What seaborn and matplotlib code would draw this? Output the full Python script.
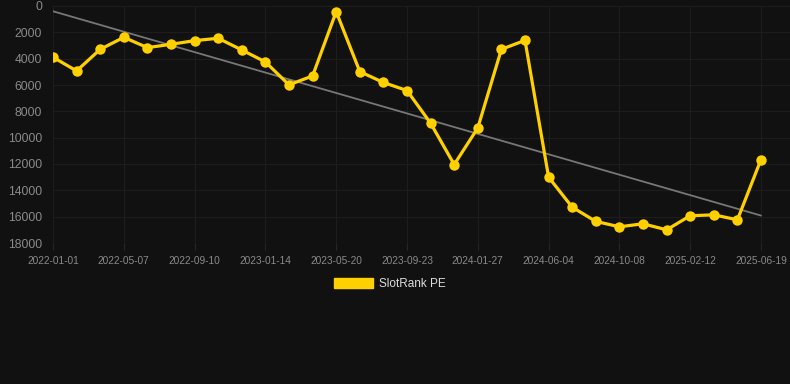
import matplotlib
matplotlib.use("Agg")
import matplotlib.pyplot as plt
import numpy as np
import seaborn as sns
from matplotlib.patches import Patch

dates = [
    "2022-01-01", "2022-02-12", "2022-03-26", "2022-05-07", "2022-06-18", "2022-07-30",
    "2022-09-10", "2022-10-22", "2022-12-03", "2023-01-14", "2023-02-25", "2023-04-08",
    "2023-05-20", "2023-07-01", "2023-08-12", "2023-09-23", "2023-11-04", "2023-12-16",
    "2024-01-27", "2024-03-09", "2024-04-20", "2024-06-04", "2024-07-16", "2024-08-27",
    "2024-10-08", "2024-11-19", "2024-12-31", "2025-02-12", "2025-03-26", "2025-05-07",
    "2025-06-19",
]
rank = [
    3890, 4930, 3290, 2380, 3160, 2910, 2630, 2450, 3340, 4250, 5990, 5310,
    430, 4980, 5810, 6420, 8900, 12040, 9260, 3290, 2610, 13000, 15280, 16360,
    16770, 16540, 17000, 15930, 15860, 16240, 11660,
]
series_name = "SlotRank PE"
y_ticks = [0, 2000, 4000, 6000, 8000, 10000, 12000, 14000, 16000, 18000]

bg = "#111111"
gold = "#FFD000"
grid = "#1d1d1d"

sns.set_theme(style="dark")
plt.rcParams["font.family"] = ["Liberation Sans", "DejaVu Sans"]

fig = plt.figure(figsize=(7.9, 3.84), dpi=100, facecolor=bg)
ax = fig.add_axes([53 / 790, 1 - 243 / 384, 1 - 53 / 790, 237 / 384])
ax.set_facecolor(bg)

idx = np.arange(len(rank))
sns.regplot(x=idx, y=rank, ax=ax, scatter=False, ci=None, truncate=True,
            color="#777777", line_kws={"linewidth": 1.3, "zorder": 2})
sns.lineplot(x=idx, y=rank, ax=ax, color=gold, linewidth=2.3, marker="o",
             markersize=7.5, markeredgewidth=0, zorder=3)

ax.set_xlim(0, 30 + 29 / 23.6)
ax.set_ylim(18000, 0)
ax.set_yticks(y_ticks)
ax.set_yticklabels([str(v) for v in y_ticks])
ax.set_xticks(idx[::3])
ax.set_xticklabels(dates[::3])

ax.grid(True, color=grid, linewidth=0.8)
for s in ax.spines.values():
    s.set_visible(False)
ax.tick_params(axis="y", length=0, pad=8, labelsize=8.7, labelcolor="#8a8a8a")
ax.tick_params(axis="x", length=5, width=0.8, color="#262626", pad=4,
               labelsize=7.3, labelcolor="#8a8a8a", bottom=True)
ax.set_xlabel("")
ax.set_ylabel("")

handle = Patch(facecolor=gold, edgecolor=gold, label=series_name)
fig.legend(handles=[handle], loc="center", bbox_to_anchor=(390 / 790, 1 - 284 / 384),
           frameon=False, fontsize=8.5, labelcolor="#dddddd",
           handlelength=3.3, handleheight=1.0, handletextpad=0.5)

fig.savefig("out.png", dpi=100, facecolor=bg)
